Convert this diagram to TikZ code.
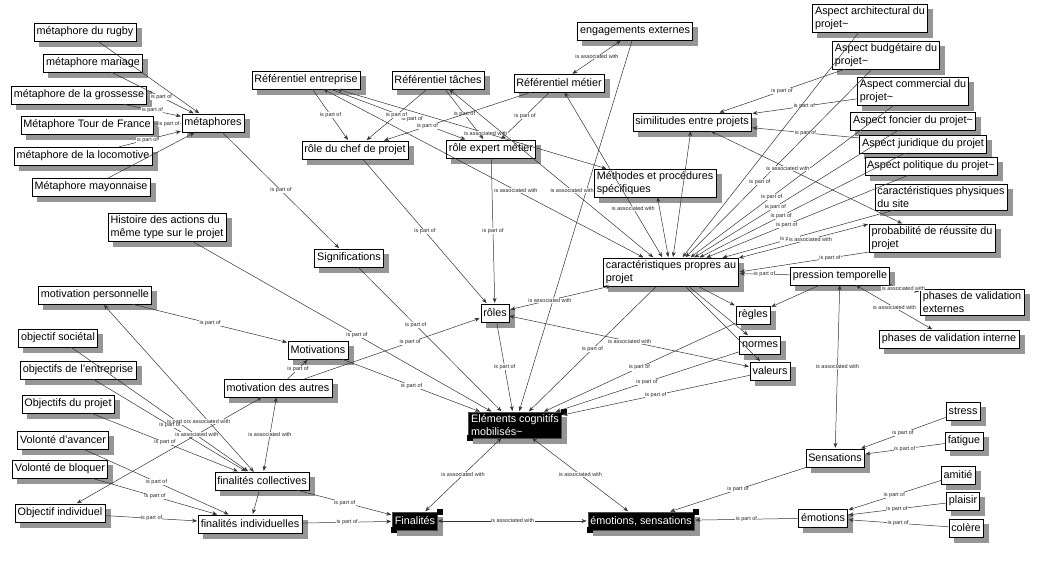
\documentclass[tikz,border=0pt]{standalone}
\usepackage{fontspec}
\setmainfont{Liberation Sans}
\usetikzlibrary{arrows.meta}
\definecolor{shade}{RGB}{150,150,150}

% boite avec ombre portee
\newcommand{\cnode}[4][concept]{%
  \node[#1,fill=shade,draw=shade,text=shade] at ([xshift=5pt,yshift=-5pt]#2) {#4};
  \node[#1] (#3) at (#2) {#4};}

\begin{document}
\begin{tikzpicture}[x=1pt,y=-1pt,>={Stealth[length=5pt,width=4pt]},shorten >=1pt]
  \tikzstyle{concept}=[draw,thin,fill=white,font=\fontsize{10.8}{12.5}\selectfont,align=left,
    inner sep=2.5pt,minimum height=18pt]
  \tikzstyle{topic}=[concept,fill=black,text=white,draw=black!70]
  \tikzstyle{lbl}=[font=\fontsize{5.5}{6}\selectfont,fill=white,inner sep=0.4pt,text=black!85]
  \tikzstyle{link}=[black!80,line width=0.5pt]

  \useasboundingbox (0,0) rectangle (1041,573);

  % metaphores
  \cnode{85,32}{rugby}{métaphore du rugby}
  \cnode{93,63}{mariage}{métaphore mariage}
  \cnode{79,95}{grossesse}{métaphore de la grossesse}
  \cnode{87,125}{tdf}{Métaphore Tour de France}
  \cnode{83,156}{loco}{métaphore de la locomotive}
  \cnode{91,187}{mayo}{Métaphore mayonnaise}
  \cnode{213,123}{meta}{métaphores}

  % referentiels et roles
  \cnode{306,80}{refent}{Référentiel entreprise}
  \cnode{438,80}{reftach}{Référentiel tâches}
  \cnode{559,83}{refmet}{Référentiel métier}
  \cnode{635,31}{engag}{engagements externes}
  \cnode{355,150}{rchef}{rôle du chef de projet}
  \cnode{491,149}{rexpert}{rôle expert métier}

  % aspects du projet
  \cnode{870,18}{aarch}{Aspect architectural du\\projet\textasciitilde}
  \cnode{886,55}{abudg}{Aspect budgétaire du\\projet\textasciitilde}
  \cnode{913,91}{acomm}{Aspect commercial du\\projet\textasciitilde}
  \cnode{913,121}{afonc}{Aspect foncier du projet\textasciitilde}
  \cnode{923,144}{ajur}{Aspect juridique du projet}
  \cnode{931,166}{apol}{Aspect politique du projet\textasciitilde}
  \cnode{941,197}{cphys}{caractéristiques physiques\\du site}
  \cnode{932,238}{proba}{probabilité de réussite du\\projet}
  \cnode{840,276}{pression}{pression temporelle}
  \cnode{972,302}{phext}{phases de validation\\externes}
  \cnode{949,339}{phint}{phases de validation interne}
  \cnode{692,122}{simil}{similitudes entre projets}
  \cnode{655,183}{methodes}{Méthodes et procédures\\spécifiques}
  \cnode{671,272}{cprop}{caractéristiques propres au\\projet}
  \cnode{753,315}{regles}{règles}
  \cnode{760,345}{normes}{normes}
  \cnode{770,371}{valeurs}{valeurs}

  % motivations et finalites
  \cnode{167,227}{histoire}{Histoire des actions du\\même type sur le projet}
  \cnode{349,258}{signif}{Significations}
  \cnode{495,313}{roles}{rôles}
  \cnode{95,295}{motperso}{motivation personnelle}
  \cnode{318,350}{motiv}{Motivations}
  \cnode{278,388}{motautres}{motivation des autres}
  \cnode{58,338}{objsoc}{objectif sociétal}
  \cnode{78,370}{objent}{objectifs de l'entreprise}
  \cnode{68,404}{objproj}{Objectifs du projet}
  \cnode{63,440}{volav}{Volonté d'avancer}
  \cnode{60,469}{volbl}{Volonté de bloquer}
  \cnode{60,513}{objind}{Objectif individuel}
  \cnode{262,481}{fcoll}{finalités collectives}
  \cnode{250,524}{find}{finalités individuelles}

  % noyau
  \cnode[topic]{515,425}{elem}{Eléments cognitifs\\mobilisés\textasciitilde}
  \cnode[topic]{415,521}{final}{Finalités}
  \cnode[topic]{641,521}{emosens}{émotions, sensations}

  % sensations et emotions
  \cnode{835,458}{sensa}{Sensations}
  \cnode{963,411}{stress}{stress}
  \cnode{964,441}{fatigue}{fatigue}
  \cnode{958,475}{amitie}{amitié}
  \cnode{963,501}{plaisir}{plaisir}
  \cnode{966,528}{colere}{colère}
  \cnode{823,518}{emot}{émotions}

  \foreach \n in {elem,final,emosens}{
    \fill (\n.north east) ++(-1,-3) rectangle ++(6,6);
    \fill (\n.south west) ++(-1,-3) rectangle ++(6,6);
  }

  \path[->,link]
  (rugby)     edge (meta)
  (mariage)   edge node[lbl,pos=0.6] {is part of} (meta)
  (grossesse) edge node[lbl,pos=0.5] {is part of} (meta)
  (tdf)       edge node[lbl,pos=0.55] {is part of} (meta)
  (loco)      edge node[lbl,pos=0.45] {is part of} (meta)
  (mayo)      edge (meta)
  (meta)      edge node[lbl] {is part of} (signif)
  (signif)    edge node[lbl,pos=0.4] {is part of} (elem)
  (histoire)  edge node[lbl,pos=0.55] {is part of} (elem)
  (motiv)     edge node[lbl] {is part of} (elem)
  (motperso)  edge node[lbl] {is part of} (motiv)
  (motautres) edge node[lbl] {is part of} (motiv)
  (motautres) edge node[lbl,pos=0.6] {is part of} (roles)
  (refent)    edge node[lbl] {is part of} (rchef)
  (refent)    edge node[lbl,pos=0.6] {is part of} (rexpert)
  (reftach)   edge node[lbl] {is part of} (rchef)
  (reftach)   edge node[lbl] {is part of} (rexpert)
  (refmet)    edge node[lbl,pos=0.7] {is part of} (rchef)
  (refmet)    edge node[lbl] {is part of} (rexpert)
  (rchef)     edge node[lbl] {is part of} (roles)
  (rexpert)   edge node[lbl] {is part of} (roles)
  (roles)     edge node[lbl] {is part of} (elem)
  (cprop)     edge node[lbl] {is part of} (elem)
  (engag)     edge (elem)
  (regles)    edge node[lbl] {is part of} (elem)
  (normes)    edge node[lbl] {is part of} (elem)
  (valeurs)   edge node[lbl] {is part of} (elem)
  (abudg)     edge node[lbl] {is part of} (simil)
  (acomm)     edge node[lbl] {is part of} (simil)
  (ajur)      edge node[lbl] {is part of} (simil)
  (aarch)     edge (cprop)
  (abudg)     edge node[lbl,pos=0.6] {is part of} (cprop)
  (acomm)     edge node[lbl,pos=0.6] {is part of} (cprop)
  (afonc)     edge node[lbl,pos=0.6] {is part of} (cprop)
  (ajur)      edge node[lbl,pos=0.6] {is part of} (cprop)
  (apol)      edge node[lbl,pos=0.6] {is part of} (cprop)
  (cphys)     edge node[lbl,pos=0.6] {is part of} (cprop)
  (proba.south west) edge node[lbl,pos=0.3] {is part of} (cprop.east)
  (pression)  edge node[lbl] {is part of} (cprop)
  (cprop)     edge (regles)
  (cprop)     edge (normes)
  (cprop)     edge (valeurs)
  (pression)  edge (regles)
  (objsoc)    edge node[lbl,pos=0.6] {is part of} (fcoll)
  (objent)    edge node[lbl,pos=0.5] {is part of} (fcoll)
  (objproj)   edge node[lbl] {is part of} (fcoll)
  (volav)     edge node[lbl] {is part of} (find)
  (volbl)     edge node[lbl] {is part of} (find)
  (objind)    edge node[lbl] {is part of} (find)
  (fcoll)     edge (find)
  (fcoll)     edge node[lbl] {is part of} (final)
  (find)      edge node[lbl] {is part of} (final)
  (stress)    edge node[lbl] {is part of} (sensa)
  (fatigue)   edge node[lbl] {is part of} (sensa)
  (amitie)    edge node[lbl] {is part of} (emot)
  (plaisir)   edge node[lbl] {is part of} (emot)
  (colere)    edge node[lbl] {is part of} (emot)
  (sensa)     edge node[lbl] {is part of} (emosens)
  (emot)      edge node[lbl] {is part of} (emosens);

  \path[<->,link]
  (refmet)    edge node[lbl] {is associated with} (engag)
  (refent)    edge node[lbl,pos=0.55] {is associated with} (methodes)
  (refent)    edge node[lbl,pos=0.6] {is associated with} (cprop)
  (reftach)   edge node[lbl,pos=0.6] {is associated with} (cprop)
  (refmet)    edge node[lbl,pos=0.7] {is associated with} (cprop)
  (methodes)  edge (cprop)
  (cprop)     edge node[lbl,pos=0.6] {is associated with} (roles)
  (roles)     edge node[lbl] {is associated with} (valeurs)
  (simil)     edge node[lbl,pos=0.4] {is associated with} (proba)
  (simil)     edge (cprop)
  (cprop.north east) edge node[lbl,pos=0.55] {is associated with} (proba.north west)
  (pression)  edge node[lbl] {is associated with} (phext)
  (pression)  edge node[lbl] {is associated with} (phint)
  (pression)  edge node[lbl] {is associated with} (sensa)
  (elem)      edge node[lbl] {is associated with} (final)
  (elem)      edge node[lbl] {is associated with} (emosens)
  (final)     edge node[lbl] {is associated with} (emosens)
  (motautres) edge node[lbl] {is associated with} (fcoll)
  (motautres) edge node[lbl,pos=0.35] {is associated with} (objind)
  (fcoll)     edge node[lbl,pos=0.3] {is associated with} (motperso);
\end{tikzpicture}
\end{document}
